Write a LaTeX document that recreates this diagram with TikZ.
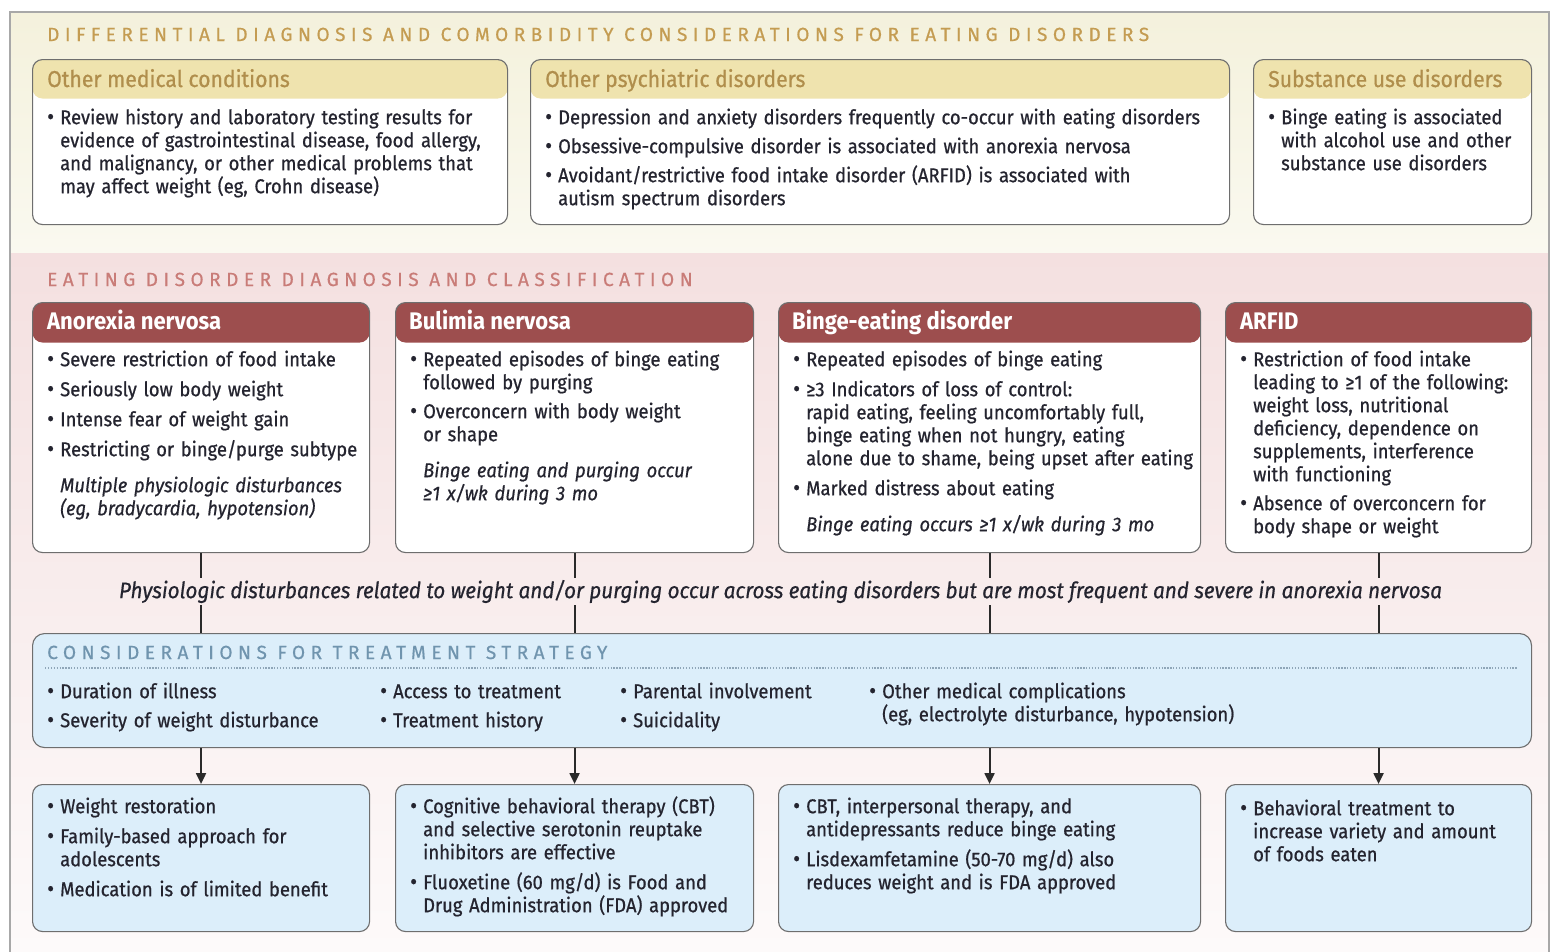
\documentclass[tikz,border=0pt]{standalone}
\usepackage{fontspec}
\setmainfont{Fira Sans}[FakeStretch=0.92, UprightFeatures={FakeBold=0.7}, ItalicFeatures={FakeBold=0.6}]
\newfontfamily\spacedfont{Fira Sans}[LetterSpace=29, FakeBold=0.6]
\usetikzlibrary{arrows.meta}
\definecolor{txt}{HTML}{24242F}
\definecolor{gold}{HTML}{C49C52}
\definecolor{goldhdr}{HTML}{EFE3AE}
\definecolor{goldtxt}{HTML}{B08E4C}
\definecolor{redhdr}{HTML}{9D4E4E}
\definecolor{pinktitle}{HTML}{C97C78}
\definecolor{bluefill}{HTML}{DCEEFA}
\definecolor{bluetitle}{HTML}{7094AE}
\definecolor{dotc}{HTML}{8FA6B8}
\definecolor{framec}{HTML}{A8A8A8}
\definecolor{boxline}{HTML}{6E6E6E}
\definecolor{creamtop}{HTML}{F4F1DC}
\definecolor{creambot}{HTML}{FAF9F0}
\definecolor{pinktop}{HTML}{F4E0E0}
\definecolor{pinkbot}{HTML}{FDFAFA}
\definecolor{connc}{HTML}{2A2A2A}
\newcommand\nl{\hfil\break}
\newcommand\bul{\hbox to 13pt{\strut\raisebox{-0.3pt}{\scalebox{1.15}{\textbullet}}\hfil}}
\newcommand\fb[1]{\par\hangindent=13pt\hangafter=1\noindent\bul#1\par}
\newcommand\bi[1]{\par\vskip7pt\hangindent=13pt\hangafter=1\noindent\bul#1\par}
\newcommand\bs[1]{\par\vskip6pt\hangindent=13pt\hangafter=1\noindent\bul#1\par}
\newcommand\itnote[1]{\par\vskip13pt\hangindent=13pt\hangafter=0\noindent{\itshape\strut#1}\par}
\newcommand\bodyset{\fontsize{20}{23}\selectfont\lineskiplimit=-10pt}
\begin{document}
\begin{tikzpicture}[x=1pt,y=-1pt,
  box/.style={draw=boxline, line width=1.1pt, rounded corners=10pt, fill=white, inner sep=0pt, anchor=north west},
  goldbox/.style={box, path picture={\fill[goldhdr] (path picture bounding box.north west) rectangle ([yshift=-39pt]path picture bounding box.north east);}},
  redbox/.style={box, path picture={\fill[redhdr] (path picture bounding box.north west) rectangle ([yshift=-40pt]path picture bounding box.north east);}},
  bluebox/.style={box, fill=bluefill},
  body/.style={anchor=north west, inner sep=0pt, align=left, text width=#1, font=\bodyset, text=txt},
  body/.default=400pt,
  sectitle/.style={anchor=base west, inner sep=0pt, font=\spacedfont\fontsize{19}{22}\selectfont},
  goldhead/.style={anchor=base west, inner sep=0pt, font=\fontsize{23}{26}\selectfont, text=goldtxt},
  redhead/.style={anchor=base west, inner sep=0pt, font=\bfseries\fontsize{24}{27}\selectfont, text=white},
  conn/.style={draw=connc, line width=2pt},
  arr/.style={conn, -{Triangle[width=10pt,length=11pt]}}
]
\useasboundingbox (0,0) rectangle (1550,951);
\fill[white] (0,0) rectangle (1550,951);
\shade[top color=creamtop, bottom color=creambot] (10,12) rectangle (1549,253);
\shade[top color=pinktop, bottom color=pinkbot] (10,253) rectangle (1549,951);
\draw[framec, line width=1.5pt] (10,955) -- (10,12) -- (1549,12) -- (1549,955);

% ---------- Differential diagnosis ----------
\node[sectitle, text=gold] (t1) at (47,41) {DIFFERENTIAL DIAGNOSIS AND COMORBIDITY CONSIDERATIONS FOR EATING DISORDERS};

\node[goldbox, minimum width=475, minimum height=165] (m1) at (32,59) {};
\node[goldhead] (m1h) at (47,87) {Other medical conditions};
\node[body=450pt] (m1t) at (47,101) {\fb{Review history and laboratory testing results for\nl evidence of gastrointestinal disease, food allergy,\nl and malignancy, or other medical problems that\nl may affect weight (eg, Crohn disease)}};

\node[goldbox, minimum width=699, minimum height=165] (m2) at (530,59) {};
\node[goldhead] (m2h) at (545,87) {Other psychiatric disorders};
\node[body=690pt] (m2t) at (545,101) {\fb{Depression and anxiety disorders frequently co-occur with eating disorders}\bs{Obsessive-compulsive disorder is associated with anorexia nervosa}\bs{Avoidant/restrictive food intake disorder (ARFID) is associated with\nl autism spectrum disorders}};

\node[goldbox, minimum width=278, minimum height=165] (m3) at (1253,59) {};
\node[goldhead] (m3h) at (1268,87) {Substance use disorders};
\node[body=270pt] (m3t) at (1268,101) {\fb{Binge eating is associated\nl with alcohol use and other\nl substance use disorders}};

% ---------- Diagnosis and classification ----------
\node[sectitle, text=pinktitle] (t2) at (47,286) {EATING DISORDER DIAGNOSIS AND CLASSIFICATION};

\node[redbox, minimum width=337, minimum height=250] (A) at (32,302) {};
\node[redhead] (Ah) at (47,329) {Anorexia nervosa};
\node[body=330pt] (At) at (47,343) {\fb{Severe restriction of food intake}\bi{Seriously low body weight}\bi{Intense fear of weight gain}\bi{Restricting or binge/purge subtype}\itnote{Multiple physiologic disturbances\nl (eg, bradycardia, hypotension)}};

\node[redbox, minimum width=358, minimum height=250] (B) at (395,302) {};
\node[redhead] (Bh) at (409,329) {Bulimia nervosa};
\node[body=345pt] (Bt) at (410,343) {\fb{Repeated episodes of binge eating\nl followed by purging}\bs{Overconcern with body weight\nl or shape}\itnote{Binge eating and purging occur\nl ≥1 x/wk during 3 mo}};

\node[redbox, minimum width=422, minimum height=250] (C) at (778,302) {};
\node[redhead] (Ch) at (792,329) {Binge-eating disorder};
\node[body=415pt] (Ct) at (793,343) {\fb{Repeated episodes of binge eating}\bi{≥3 Indicators of loss of control:\nl rapid eating, feeling uncomfortably full,\nl binge eating when not hungry, eating\nl alone due to shame, being upset after eating}\bi{Marked distress about eating}\itnote{Binge eating occurs ≥1 x/wk during 3 mo}};

\node[redbox, minimum width=306, minimum height=250] (D) at (1225,302) {};
\node[redhead] (Dh) at (1240,329) {ARFID};
\node[body=300pt] (Dt) at (1240,343) {\fb{Restriction of food intake\nl leading to ≥1 of the following:\nl weight loss, nutritional\nl deficiency, dependence on\nl supplements, interference\nl with functioning}\bs{Absence of overconcern for\nl body shape or weight}};

\node[inner sep=0pt, minimum height=27pt, font=\itshape\fontsize{22.5}{26}\selectfont, text=txt] (phys) at (780.5,591.5) {Physiologic disturbances related to weight and/or purging occur across eating disorders but are most frequent and severe in anorexia nervosa};

% ---------- Treatment strategy ----------
\node[bluebox, rounded corners=12pt, minimum width=1499, minimum height=114] (treat) at (32,633) {};
\node[sectitle, text=bluetitle] (t3) at (47,659) {CONSIDERATIONS FOR TREATMENT STRATEGY};
\draw[dotc, line width=1.3pt, dash pattern=on 1.3pt off 1.6pt] (45,668) -- (1518,668);
\node[body=320pt] (c1) at (47,675) {\fb{Duration of illness}\bs{Severity of weight disturbance}};
\node[body=230pt] (c2) at (380,675) {\fb{Access to treatment}\bs{Treatment history}};
\node[body=240pt] (c3) at (620,675) {\fb{Parental involvement}\bs{Suicidality}};
\node[body=600pt] (c4) at (869,675) {\fb{Other medical complications\nl (eg, electrolyte disturbance, hypotension)}};

% ---------- Treatment boxes ----------
\node[bluebox, minimum width=337, minimum height=147] (Ab) at (32,784) {};
\node[body=330pt] (Abt) at (47,790) {\fb{Weight restoration}\bi{Family-based approach for\nl adolescents}\bi{Medication is of limited benefit}};
\node[bluebox, minimum width=358, minimum height=147] (Bb) at (395,784) {};
\node[body=345pt] (Bbt) at (410,790) {\fb{Cognitive behavioral therapy (CBT)\nl and selective serotonin reuptake\nl inhibitors are effective}\bi{Fluoxetine (60 mg/d) is Food and\nl Drug Administration (FDA) approved}};
\node[bluebox, minimum width=422, minimum height=147] (Cb) at (778,784) {};
\node[body=415pt] (Cbt) at (793,790) {\fb{CBT, interpersonal therapy, and\nl antidepressants reduce binge eating}\bi{Lisdexamfetamine (50-70 mg/d) also\nl reduces weight and is FDA approved}};
\node[bluebox, minimum width=306, minimum height=147] (Db) at (1225,784) {};
\node[body=300pt] (Dbt) at (1240,792) {\fb{Behavioral treatment to\nl increase variety and amount\nl of foods eaten}};

% ---------- Connectors ----------
\foreach \b in {A,B,C,D}{
  \draw[conn] (\b.south) -- (\b.south |- phys.north);
  \draw[conn] (phys.south -| \b.south) -- (\b.south |- treat.north);
  \draw[arr] (treat.south -| \b b.north) -- (\b b.north);
}
\end{tikzpicture}
\end{document}
